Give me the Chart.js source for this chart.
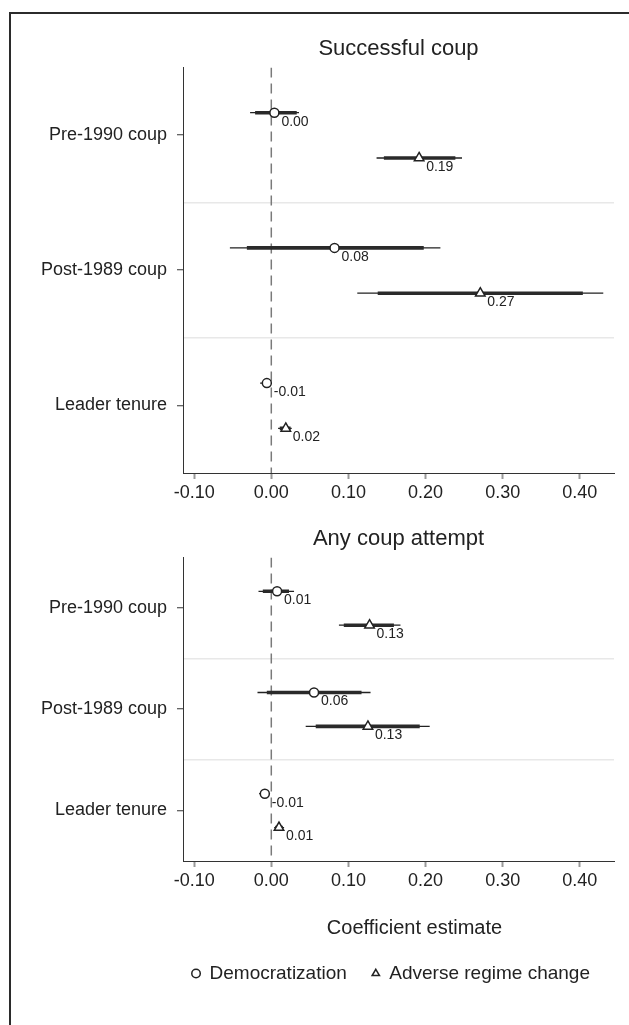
<!DOCTYPE html>
<html>
<head>
<meta charset="utf-8">
<script src="https://cdn.jsdelivr.net/npm/chart.js@4.4.1/dist/chart.umd.min.js"></script>
<style>
  body { margin: 0; background: #fff; }
  #frame { position: absolute; left: 9px; top: 12px; right: 0; bottom: 0; border-left: 2px solid #2b2b2b; border-top: 2px solid #2b2b2b; }
  .box { position: absolute; left: 0; width: 629px; }
</style>
</head>
<body>
<div id="frame"></div>
<div class="box" style="top:0;height:504px"><canvas id="graphSuccess"></canvas></div>
<div class="box" style="top:504px;height:521px"><canvas id="graphAttempt"></canvas></div>
<script>
// catégories (de haut en bas) et graduations
const categories = ['Pre-1990 coup', 'Post-1989 coup', 'Leader tenure'];
const xTicks = [-0.10, 0.00, 0.10, 0.20, 0.30, 0.40];
const xMin = -0.1145;
const xMax = 0.4444;

// Successful coup - Democratization
const sDemEst  = [0.004, 0.082, -0.0058];
const sDemLo95 = [-0.0275, -0.0537, -0.0145];
const sDemHi95 = [0.0359, 0.2193, 0.0003];
const sDemLo90 = [-0.021, -0.0317, -0.012];
const sDemHi90 = [0.033, 0.1977, -0.001];
// Successful coup - Adverse regime change
const sAdvEst  = [0.1917, 0.271, 0.0188];
const sAdvLo95 = [0.1365, 0.1115, 0.0088];
const sAdvHi95 = [0.2473, 0.4305, 0.0265];
const sAdvLo90 = [0.146, 0.138, 0.011];
const sAdvHi90 = [0.2387, 0.404, 0.025];

// Any coup attempt - Democratization
const aDemEst  = [0.0075, 0.0554, -0.0084];
const aDemLo95 = [-0.0166, -0.0179, -0.0158];
const aDemHi95 = [0.0295, 0.1287, -0.0016];
const aDemLo90 = [-0.011, -0.0058, -0.013];
const aDemHi90 = [0.023, 0.117, -0.003];
// Any coup attempt - Adverse regime change
const aAdvEst  = [0.1274, 0.1253, 0.010];
const aAdvLo95 = [0.0877, 0.0446, 0.0037];
const aAdvHi95 = [0.1675, 0.2054, 0.0166];
const aAdvLo90 = [0.094, 0.0576, 0.005];
const aAdvHi90 = [0.159, 0.1925, 0.015];

Chart.defaults.font.family = '"Liberation Sans", Arial, Helvetica, sans-serif';
Chart.defaults.color = '#222';

// étiquettes des valeurs à côté des points
const valueLabels = {
  id: 'valueLabels',
  afterDatasetsDraw(chart) {
    const ctx = chart.ctx;
    ctx.save();
    ctx.font = '14px "Liberation Sans", Arial, sans-serif';
    ctx.fillStyle = '#222';
    ctx.textBaseline = 'middle';
    chart.data.datasets.forEach((ds, i) => {
      if (!ds.showValues) return;
      chart.getDatasetMeta(i).data.forEach((pt, j) => {
        ctx.fillText(ds.data[j].x.toFixed(2), pt.x + 7, pt.y + 9);
      });
    });
    ctx.restore();
  }
};

// titre de l'axe x (décalé comme dans l'original) + décalage de la légende
const footerText = {
  id: 'footerText',
  afterLayout(chart, args, opts) {
    if (opts.legendShift && chart.legend) {
      chart.legend.left += opts.legendShift;
      chart.legend.right += opts.legendShift;
    }
  },
  afterDraw(chart, args, opts) {
    if (!opts.text) return;
    const a = chart.chartArea;
    const ctx = chart.ctx;
    ctx.save();
    ctx.font = '20px "Liberation Sans", Arial, sans-serif';
    ctx.fillStyle = '#222';
    ctx.textAlign = 'center';
    ctx.textBaseline = 'middle';
    ctx.fillText(opts.text, (a.left + a.right) / 2 + opts.shift, a.bottom + opts.dy);
    ctx.restore();
  }
};

// segments d'intervalle de confiance (séparés par des trous)
function segments(lo, hi, offset) {
  const pts = [];
  lo.forEach((v, i) => {
    const y = i + 0.5 + offset;
    pts.push({x: v, y: y}, {x: hi[i], y: y}, {x: null, y: null});
  });
  return pts;
}

function points(est, offset) {
  return est.map((v, i) => ({x: v, y: i + 0.5 + offset}));
}

function ciLine(data, width, color) {
  return { data: data, showLine: true, spanGaps: false, pointRadius: 0, borderColor: color, borderWidth: width, label: '' };
}

function graphCoef(htmlId, titre, dem, adv, footer) {
  const datasets = [
    { label: 'Democratization', data: points(dem[0], -0.165), pointStyle: 'circle', pointRadius: 4.5,
      pointBackgroundColor: '#fff', pointBorderColor: '#222', pointBorderWidth: 1.5, showValues: true },
    { label: 'Adverse regime change', data: points(adv[0], 0.17), pointStyle: 'triangle', pointRadius: 5.5,
      pointBackgroundColor: '#fff', pointBorderColor: '#222', pointBorderWidth: 1.5, showValues: true },
    ciLine(segments(dem[3], dem[4], -0.165), 3.6, '#2a2a2a'),
    ciLine(segments(dem[1], dem[2], -0.165), 1.3, '#222'),
    ciLine(segments(adv[3], adv[4], 0.17), 3.6, '#2a2a2a'),
    ciLine(segments(adv[1], adv[2], 0.17), 1.3, '#222'),
    { data: [{x: 0, y: 0}, {x: 0, y: 3}], showLine: true, pointRadius: 0, borderColor: '#7a7a7a',
      borderWidth: 1.5, borderDash: [10, 6], label: '' }
  ];

  new Chart(document.getElementById(htmlId).getContext('2d'), {
    type: 'scatter',
    data: { datasets: datasets },
    plugins: [valueLabels, footerText],
    options: {
      responsive: true,
      maintainAspectRatio: false,
      animation: false,
      events: [],
      layout: { padding: footer ? {top: 8, right: 15, bottom: 32, left: 0} : {top: 22, right: 15, bottom: 0, left: 0} },
      plugins: {
        tooltip: { enabled: false },
        title: { display: true, text: titre, fullSize: false, color: '#222',
                 font: { size: 22, weight: 'normal' }, padding: { top: 14, bottom: 5 } },
        legend: {
          display: footer,
          position: 'bottom',
          labels: { usePointStyle: true, boxWidth: 8, boxHeight: 6, padding: 25, color: '#222',
                    font: { size: 19 }, filter: item => item.datasetIndex < 2 }
        },
        footerText: footer ? { text: 'Coefficient estimate', shift: 16, dy: 67, legendShift: 84 } : {}
      },
      scales: {
        x: {
          type: 'linear', min: xMin, max: xMax,
          afterBuildTicks: s => { s.ticks = xTicks.map(v => ({value: v})); },
          afterFit: s => { s.height = footer ? 78 : 31; },
          ticks: { callback: v => v.toFixed(2), font: { size: 18 }, color: '#222', padding: 3, autoSkip: false, maxRotation: 0 },
          grid: { drawOnChartArea: false, tickLength: 6, tickWidth: 2, tickColor: '#999' },
          border: { color: '#333', width: 1 }
        },
        y: {
          type: 'linear', min: 0, max: 3, reverse: true,
          afterBuildTicks: s => { s.ticks = [0.5, 1, 1.5, 2, 2.5].map(v => ({value: v})); },
          afterFit: s => { s.width = 183; },
          ticks: { callback: v => Number.isInteger(v) ? '' : categories[Math.floor(v)], font: { size: 18 }, color: '#222', padding: 10, autoSkip: false },
          grid: {
            color: c => Number.isInteger(c.tick.value) ? '#e8e8e8' : 'rgba(0,0,0,0)',
            lineWidth: 1.5,
            tickColor: c => Number.isInteger(c.tick.value) ? 'rgba(0,0,0,0)' : '#333',
            tickWidth: 1,
            tickLength: 6
          },
          border: { color: '#333', width: 1 }
        }
      }
    }
  });
}

graphCoef('graphSuccess', 'Successful coup',
  [sDemEst, sDemLo95, sDemHi95, sDemLo90, sDemHi90],
  [sAdvEst, sAdvLo95, sAdvHi95, sAdvLo90, sAdvHi90], false);
graphCoef('graphAttempt', 'Any coup attempt',
  [aDemEst, aDemLo95, aDemHi95, aDemLo90, aDemHi90],
  [aAdvEst, aAdvLo95, aAdvHi95, aAdvLo90, aAdvHi90], true);
</script>
</body>
</html>
